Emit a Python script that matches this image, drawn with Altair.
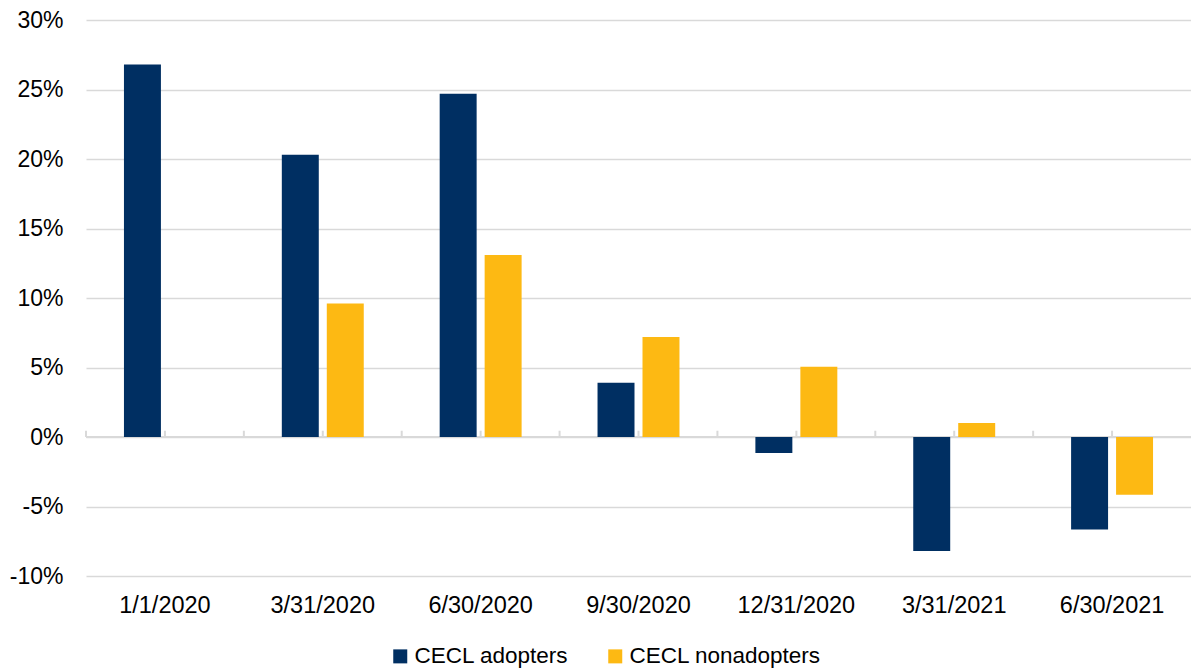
import altair as alt
import pandas as pd

# Quarter-end dates and percent change per group
dates = ["1/1/2020", "3/31/2020", "6/30/2020", "9/30/2020",
         "12/31/2020", "3/31/2021", "6/30/2021"]
adopters = [26.8, 20.3, 24.7, 3.9, -1.15, -8.2, -6.65]
nonadopters = [None, 9.6, 13.1, 7.2, 5.05, 1.0, -4.15]
series = ["CECL adopters", "CECL nonadopters"]
colors = ["#002F62", "#FDB913"]
y_ticks = [-10, -5, 0, 5, 10, 15, 20, 25, 30]

rows = []
for d, a, n in zip(dates, adopters, nonadopters):
    rows.append({"date": d, "series": series[0], "value": a})
    if n is not None:
        rows.append({"date": d, "series": series[1], "value": n})
df = pd.DataFrame(rows)
ticks_df = pd.DataFrame({"date": dates})

FONT = "Liberation Sans"
GRID = "#d9d9d9"

x_scale = alt.Scale(domain=dates, paddingInner=0, paddingOuter=0)
y_scale = alt.Scale(domain=[-10, 30], nice=False)

x_axis = alt.Axis(domain=False, ticks=False, grid=False, labelAngle=0,
                  bandPosition=0.5, labelAlign="center",
                  labelFontSize=23.5, labelFont=FONT, labelColor="#000000",
                  labelPadding=17)
y_axis = alt.Axis(values=y_ticks, domain=False, ticks=False, grid=True,
                  gridColor=GRID, gridWidth=1.5,
                  labelExpr="datum.value + '%'", labelFontSize=23,
                  labelFont=FONT, labelColor="#000000", labelPadding=23)

bars = alt.Chart(df).mark_bar().encode(
    x=alt.X("date:N", sort=dates, scale=x_scale, title=None, axis=x_axis),
    xOffset=alt.XOffset("series:N", sort=series,
                        scale=alt.Scale(domain=series, paddingInner=0.178, paddingOuter=0.844)),
    y=alt.Y("value:Q", scale=y_scale, title=None, axis=y_axis),
    color=alt.Color("series:N", sort=series,
                    scale=alt.Scale(domain=series, range=colors),
                    legend=alt.Legend(title=None, orient="none", direction="horizontal",
                                      legendX=303, legendY=625, symbolType="square",
                                      symbolSize=196, symbolStrokeWidth=0,
                                      labelFontSize=22.5, labelFont=FONT, labelLimit=0,
                                      labelColor="#000000", labelOffset=3,
                                      columnPadding=35)),
)

# Zero baseline
zero = alt.Chart(ticks_df).mark_rule(color=GRID, strokeWidth=2).encode(
    y=alt.datum(0, scale=y_scale, axis=y_axis, title=None)
)

# Small upward tick marks along the zero line: band edges and band centres
edge_ticks = alt.Chart(ticks_df).mark_rule(color=GRID, strokeWidth=2).encode(
    x=alt.X("date:N", sort=dates, scale=x_scale, bandPosition=0, title=None, axis=x_axis),
    y=alt.datum(0, axis=y_axis, title=None),
    y2=alt.datum(0.45),
)
mid_ticks = alt.Chart(ticks_df).mark_rule(color=GRID, strokeWidth=2).encode(
    x=alt.X("date:N", sort=dates, scale=x_scale, bandPosition=0.5, title=None, axis=x_axis),
    y=alt.datum(0, axis=y_axis, title=None),
    y2=alt.datum(0.45),
)

chart = alt.layer(zero, edge_ticks, mid_ticks, bars).properties(
    width=1105,
    height=556,
    background="white",
    autosize=alt.AutoSizeParams(type="none"),
    padding={"left": 86, "top": 20, "right": 0, "bottom": 95},
).configure_view(strokeWidth=0, stroke="transparent").configure_axis(
    domain=False, ticks=False
).configure_axisX(grid=False)

chart.save("out.html", embed_options={"renderer": "svg", "actions": False})
